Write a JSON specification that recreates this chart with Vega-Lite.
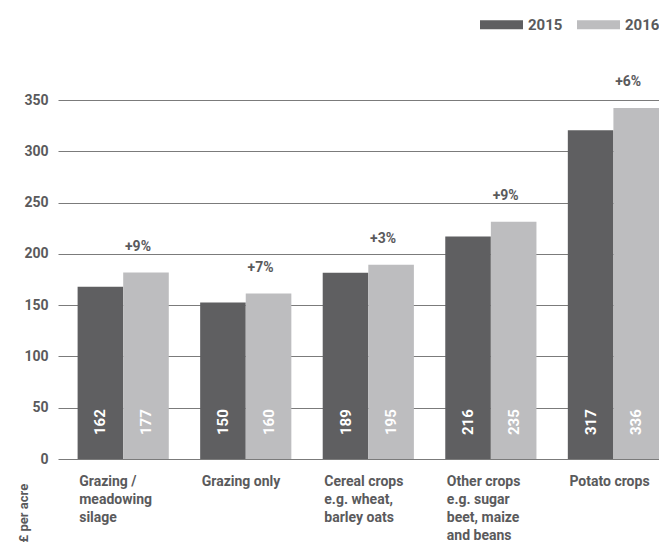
{
  "$schema": "https://vega.github.io/schema/vega-lite/v6.json",
  "autosize": "none",
  "padding": {"left": 58, "top": 100, "right": 0, "bottom": 85},
  "width": 601,
  "height": 359,
  "background": "white",
  "config": {
    "view": {"stroke": null},
    "font": "Roboto",
    "text": {"font": "Roboto"}
  },
  "data": {
    "values": [
      {"category": "Grazing /|meadowing|silage", "year": "2015", "value": 168, "label": "162", "change": "+9%"},
      {"category": "Grazing /|meadowing|silage", "year": "2016", "value": 181.8, "label": "177", "change": "+9%"},
      {"category": "Grazing only", "year": "2015", "value": 152.5, "label": "150", "change": "+7%"},
      {"category": "Grazing only", "year": "2016", "value": 161.3, "label": "160", "change": "+7%"},
      {"category": "Cereal crops|e.g. wheat,|barley oats", "year": "2015", "value": 181.5, "label": "189", "change": "+3%"},
      {"category": "Cereal crops|e.g. wheat,|barley oats", "year": "2016", "value": 189.3, "label": "195", "change": "+3%"},
      {"category": "Other crops|e.g. sugar|beet, maize|and beans", "year": "2015", "value": 217, "label": "216", "change": "+9%"},
      {"category": "Other crops|e.g. sugar|beet, maize|and beans", "year": "2016", "value": 231.3, "label": "235", "change": "+9%"},
      {"category": "Potato crops", "year": "2015", "value": 320.4, "label": "317", "change": "+6%"},
      {"category": "Potato crops", "year": "2016", "value": 342.2, "label": "336", "change": "+6%"}
    ]
  },
  "encoding": {
    "x": {
      "field": "category",
      "type": "nominal",
      "sort": null,
      "scale": {"paddingInner": 0.256, "paddingOuter": 0.08, "align": 1},
      "axis": {
        "title": null,
        "labelAngle": 0,
        "labelExpr": "split(datum.value, '|')",
        "labelAlign": "left",
        "labelBaseline": "top",
        "labelOffset": -44,
        "labelPadding": 15,
        "labelLineHeight": 18.3,
        "labelFont": "Roboto",
        "labelFontWeight": "bold",
        "labelFontSize": 14,
        "labelColor": "#5a5a5c",
        "labelOverlap": false,
        "labelFlush": false,
        "labelBound": false,
        "domain": false,
        "ticks": false,
        "grid": false
      }
    },
    "xOffset": {
      "field": "year",
      "type": "nominal",
      "scale": {"paddingInner": 0, "paddingOuter": 0}
    }
  },
  "layer": [
    {
      "mark": {"type": "bar"},
      "encoding": {
        "y": {
          "field": "value",
          "type": "quantitative",
          "scale": {"domain": [0, 350], "nice": false},
          "axis": {
            "values": [0, 50, 100, 150, 200, 250, 300, 350],
            "grid": true,
            "gridColor": "#7b7b7b",
            "gridWidth": 1,
            "domain": false,
            "ticks": false,
            "labelPadding": 10,
            "labelFont": "Roboto",
            "labelFontWeight": "bold",
            "labelFontSize": 14,
            "labelColor": "#5a5a5c",
            "title": "£ per acre",
            "titleFont": "Roboto",
            "titleFontWeight": "bold",
            "titleFontSize": 13,
            "titleColor": "#5a5a5c",
            "titleAngle": 270,
            "titleAlign": "left",
            "titleBaseline": "alphabetic",
            "titleX": -31,
            "titleY": 442
          }
        },
        "color": {
          "field": "year",
          "type": "nominal",
          "scale": {"domain": ["2015", "2016"], "range": ["#5f5f61", "#bdbdbf"]},
          "legend": {
            "title": null,
            "orient": "none",
            "direction": "horizontal",
            "legendX": 422,
            "legendY": -97,
            "symbolType": "M-1,-0.21L1,-0.21L1,0.21L-1,0.21Z",
            "symbolSize": 1849,
            "symbolStrokeWidth": 0,
            "symbolOpacity": 1,
            "labelFont": "Roboto",
            "labelFontWeight": "bold",
            "labelFontSize": 15,
            "labelColor": "#5a5a5c",
            "labelOffset": 5,
            "columnPadding": 14,
            "padding": 0
          }
        }
      }
    },
    {
      "mark": {"type": "text", "angle": 270, "align": "left", "baseline": "middle", "dx": 24, "color": "white", "font": "Roboto", "fontWeight": "bold", "fontSize": 15},
      "encoding": {
        "y": {"datum": 0, "type": "quantitative"},
        "text": {"field": "label"}
      }
    },
    {
      "transform": [{"filter": "datum.year == '2016'"}],
      "mark": {"type": "text", "align": "center", "baseline": "middle", "dx": -8, "dy": -26, "color": "#5a5a5c", "font": "Roboto", "fontWeight": "bold", "fontSize": 14},
      "encoding": {
        "y": {"field": "value", "type": "quantitative"},
        "text": {"field": "change"}
      }
    }
  ]
}
